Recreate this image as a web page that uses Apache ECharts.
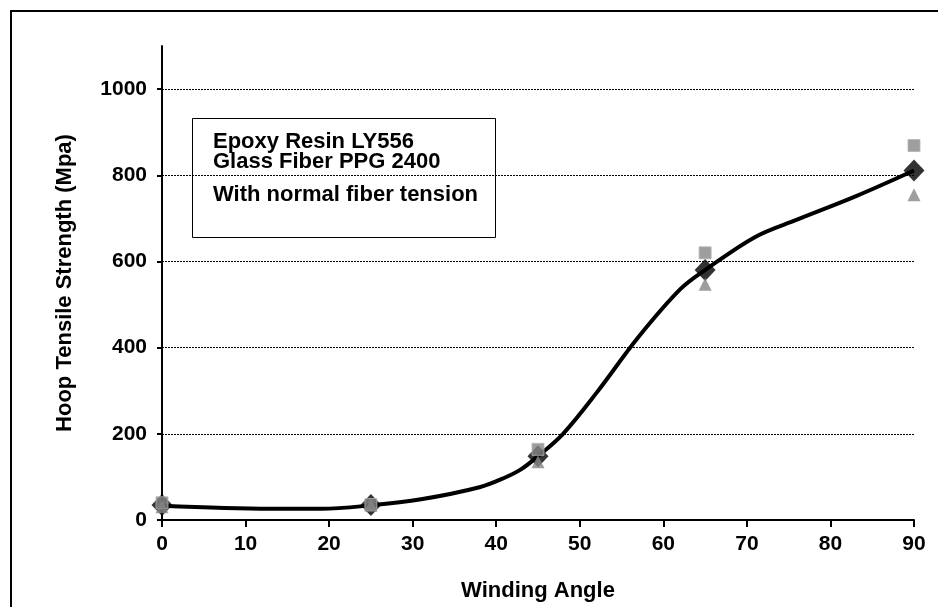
<!DOCTYPE html>
<html>
<head>
<meta charset="utf-8">
<script src="https://cdn.jsdelivr.net/npm/echarts@6/dist/echarts.min.js"></script>
<style>
  html, body { margin: 0; padding: 0; background: #fff; }
  #chart { width: 938px; height: 607px; }
</style>
</head>
<body>
<div id="chart"></div>
<script>
// Winding angles at which the tubes were tested
const windingAngles = [0, 25, 45, 65, 90];
// Mean hoop tensile strength (MPa)
const meanStrength = [35, 35, 148, 580, 811];
// Highest and lowest specimen results (MPa)
const maxStrength = [40, 36, 164, 620, 869];
const minStrength = [31, 34, 135, 547, 755];
// Fitted trend curve through the means
const curveAngles = [0, 13, 19, 25, 31, 38, 41, 43, 45, 48, 52, 57, 62, 65, 71, 76, 83, 90];
const curveStrength = [33, 26, 26, 34, 48, 76, 98, 118, 148, 200, 295, 424, 535, 580, 657, 697, 751, 811];
// Axis ticks
const yTicks = [0, 200, 400, 600, 800, 1000];
const gridValues = [200, 400, 600, 800, 1000];
const noteLines = ['Epoxy Resin LY556', 'Glass Fiber PPG 2400', 'With normal fiber tension'];

const FONT = '"Liberation Sans", Arial, sans-serif';
const pair = (xs, ys) => xs.map((x, i) => [x, ys[i]]);

const chart = echarts.init(document.getElementById('chart'), null, { renderer: 'canvas' });

chart.setOption({
  animation: false,
  backgroundColor: '#fff',
  grid: { left: 162, right: 24, top: 46, bottom: 86, containLabel: false },
  xAxis: {
    type: 'value', min: 0, max: 90, interval: 10,
    name: 'Winding Angle', nameLocation: 'middle', nameGap: 60,
    nameTextStyle: { fontFamily: FONT, fontWeight: 'bold', fontSize: 22, color: '#000' },
    axisLine: { lineStyle: { color: '#000', width: 2 } },
    axisTick: { show: true, length: 7, inside: false, lineStyle: { color: '#000', width: 2 } },
    axisLabel: { fontFamily: FONT, fontWeight: 'bold', fontSize: 21, color: '#000', margin: 14 },
    splitLine: { show: false }
  },
  yAxis: {
    type: 'value', min: 0, max: 1100, interval: 100,
    name: 'Hoop Tensile Strength (Mpa)', nameLocation: 'middle', nameGap: 86,
    nameTextStyle: { fontFamily: FONT, fontWeight: 'bold', fontSize: 22, color: '#000' },
    axisLine: { show: true, lineStyle: { color: '#000', width: 2 } },
    axisTick: { show: true, length: 5, customValues: yTicks, lineStyle: { color: '#000', width: 2 } },
    axisLabel: { fontFamily: FONT, fontWeight: 'bold', fontSize: 21, color: '#000', margin: 15,
      customValues: yTicks, formatter: v => String(v) },
    splitLine: { show: false }
  },
  graphic: [
    { type: 'rect', z: 0, silent: true,
      shape: { x: 11, y: 11, width: 1200, height: 900 },
      style: { fill: 'none', stroke: '#000', lineWidth: 2 } },
    { type: 'group', left: 192, top: 118, z: 100, children: [
      { type: 'rect', shape: { x: 0.5, y: 0.5, width: 303, height: 119 },
        style: { fill: '#fff', stroke: '#000', lineWidth: 1 } },
      ...noteLines.map((t, i) => ({
        type: 'text', x: 21, y: [24, 44, 77][i],
        style: { text: t, fill: '#000', font: 'bold 22px ' + FONT, textVerticalAlign: 'middle' }
      }))
    ] }
  ],
  series: [
    {
      name: 'Trend', type: 'line', data: pair(curveAngles, curveStrength),
      smooth: 0.35, showSymbol: false, z: 2,
      lineStyle: { color: '#000', width: 4 },
      markLine: {
        silent: true, symbol: ['none', 'none'], label: { show: false },
        lineStyle: { color: '#000', type: [2, 1], width: 1 },
        data: gridValues.map(v => ({ yAxis: v }))
      }
    },
    {
      name: 'Mean', type: 'scatter', data: pair(windingAngles, meanStrength),
      symbol: 'diamond', symbolSize: [21, 22], z: 3,
      itemStyle: { color: '#000' }
    },
    {
      name: 'Max', type: 'scatter', data: pair(windingAngles, maxStrength),
      symbol: 'rect', symbolSize: 12, z: 4,
      itemStyle: { color: '#868686', borderColor: '#b4b4b4', borderWidth: 1 }
    },
    {
      name: 'Min', type: 'scatter', data: pair(windingAngles, minStrength),
      symbol: 'triangle', symbolSize: [13, 13], z: 5,
      itemStyle: { color: '#868686' }
    }
  ]
});
</script>
</body>
</html>
